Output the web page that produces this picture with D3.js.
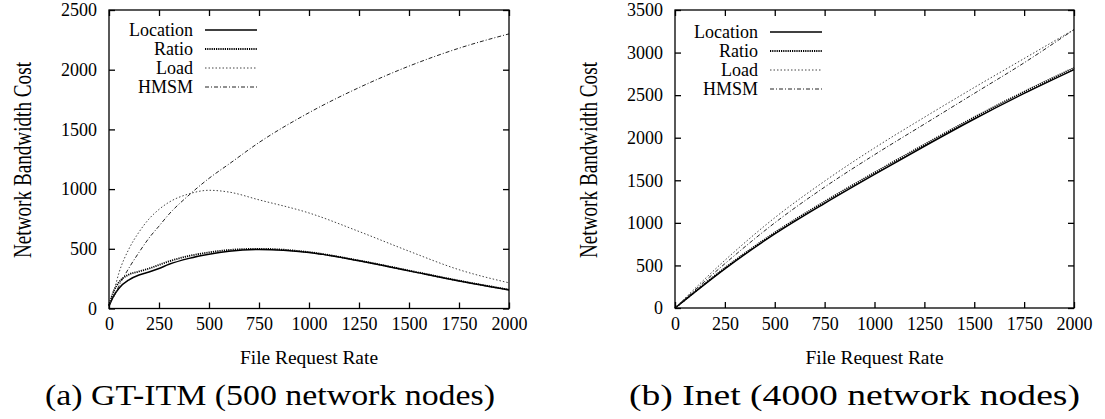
<!DOCTYPE html>
<html>
<head>
<meta charset="utf-8">
<script src="https://cdn.jsdelivr.net/npm/d3@7"></script>
<style>
  body { margin: 0; background: #fff; }
  .axis path, .axis line { stroke: #000; stroke-width: 1.3; }
</style>
</head>
<body>
<svg width="1105" height="419"></svg>
<script>
// (a) GT-ITM
const rateA = [0, 25, 50, 100, 150, 200, 250, 300, 400, 500, 600, 750, 1000, 1250, 1500, 1750, 2000]
const locationA = [20, 110, 170, 240, 280, 305, 335, 370, 420, 455, 480, 495, 470, 400, 315, 230, 155]
const ratioA = [25, 150, 220, 285, 310, 335, 365, 395, 440, 470, 490, 500, 472, 402, 318, 233, 158]
const loadA = [30, 150, 300, 500, 640, 750, 830, 890, 960, 990, 975, 910, 800, 645, 480, 325, 215]
const hmsmA = [30, 100, 190, 340, 470, 590, 690, 790, 950, 1090, 1210, 1390, 1640, 1850, 2030, 2180, 2300]

// (b) Inet
const rateB = [0, 250, 500, 750, 1000, 1250, 1500, 1750, 2000]
const locationB = [0, 460, 870, 1230, 1570, 1900, 2220, 2520, 2800]
const ratioB = [0, 470, 885, 1250, 1590, 1920, 2240, 2540, 2820]
const loadB = [0, 560, 1060, 1490, 1880, 2240, 2590, 2930, 3270]
const hmsmB = [0, 520, 1000, 1420, 1800, 2160, 2520, 2880, 3270]

const xTicks = [0, 250, 500, 750, 1000, 1250, 1500, 1750, 2000]
const yTicksA = [0, 500, 1000, 1500, 2000, 2500]
const yTicksB = [0, 500, 1000, 1500, 2000, 2500, 3000, 3500]
const seriesNames = ['Location', 'Ratio', 'Load', 'HMSM']

const styles = {
  Location: {stroke: '#000', width: 1.5, dash: null},
  Ratio: {stroke: '#000', width: 1.8, dash: '1.2,1'},
  Load: {stroke: '#444', width: 1, dash: '1.5,2'},
  HMSM: {stroke: '#222', width: 1, dash: '4,2,1,2'}
}

const FONT = '"Liberation Serif", "Times New Roman", serif'
const svg = d3.select('svg')

function drawPanel(cfg){
  let {left, right, top, bottom, yMax, yTicks, rate, series, caption, legend} = cfg

  let x = d3.scaleLinear().domain([0, 2000]).range([left, right])
  let y = d3.scaleLinear().domain([0, yMax]).range([bottom, top])
  let g = svg.append('g')

  // lines
  let line = d3.line().x((d, i) => x(rate[i])).y(d => y(d)).curve(d3.curveMonotoneX)
  seriesNames.forEach(name => {
    let s = styles[name]
    g.append('path')
      .attr('d', line(series[name]))
      .attr('fill', 'none')
      .attr('stroke', s.stroke)
      .attr('stroke-width', s.width)
      .attr('stroke-dasharray', s.dash)
  })

  // frame
  g.append('rect')
    .attr('x', left).attr('y', top)
    .attr('width', right - left).attr('height', bottom - top)
    .attr('fill', 'none').attr('stroke', '#000').attr('stroke-width', 1.3)

  // axes, ticks pointing inward, mirrored
  let fmt = d3.format('d')
  let xAxis = d3.axisBottom(x).tickValues(xTicks).tickFormat(fmt).tickSizeInner(-6).tickSizeOuter(0).tickPadding(12)
  let xg = g.append('g').attr('class', 'axis').attr('transform', `translate(0,${bottom})`).call(xAxis)
  xg.attr('font-family', FONT).attr('font-size', 18)
  xg.selectAll('text').attr('dy', '0.55em')
  g.append('g').attr('class', 'axis').attr('transform', `translate(0,${top})`)
    .call(d3.axisTop(x).tickValues(xTicks).tickSizeInner(-6).tickSizeOuter(0).tickFormat(''))

  let yAxis = d3.axisLeft(y).tickValues(yTicks).tickFormat(fmt).tickSizeInner(-6).tickSizeOuter(0).tickPadding(12)
  let yg = g.append('g').attr('class', 'axis').attr('transform', `translate(${left},0)`).call(yAxis)
  yg.attr('font-family', FONT).attr('font-size', 18)
  g.append('g').attr('class', 'axis').attr('transform', `translate(${right},0)`)
    .call(d3.axisRight(y).tickValues(yTicks).tickSizeInner(-6).tickSizeOuter(0).tickFormat(''))
  g.selectAll('.axis path').remove()

  // legend
  seriesNames.forEach((name, i) => {
    let s = styles[name]
    let ly = legend.y + i * legend.step
    g.append('text')
      .attr('x', legend.x).attr('y', ly).attr('dy', '0.35em')
      .attr('text-anchor', 'end').attr('font-size', 18).attr('font-family', FONT)
      .text(name)
    g.append('line')
      .attr('x1', legend.x + 12).attr('x2', legend.x + 64)
      .attr('y1', ly).attr('y2', ly)
      .attr('stroke', s.stroke).attr('stroke-width', s.width)
      .attr('stroke-dasharray', s.dash)
  })

  // axis titles
  g.append('text')
    .attr('transform', `translate(${left - 78},160) rotate(-90)`)
    .attr('text-anchor', 'middle').attr('font-size', 25).attr('font-family', FONT)
    .attr('textLength', 196).attr('lengthAdjust', 'spacingAndGlyphs')
    .text('Network Bandwidth Cost')
  g.append('text')
    .attr('x', (left + right) / 2).attr('y', 364)
    .attr('text-anchor', 'middle').attr('font-size', 19).attr('font-family', FONT)
    .attr('textLength', 138).attr('lengthAdjust', 'spacingAndGlyphs')
    .text('File Request Rate')

  // caption
  g.append('text')
    .attr('x', caption.x).attr('y', 405)
    .attr('font-size', 29).attr('font-family', FONT)
    .attr('textLength', caption.len).attr('lengthAdjust', 'spacingAndGlyphs')
    .text(caption.text)
}

drawPanel({
  left: 109, right: 509, top: 10, bottom: 308.5, yMax: 2500, yTicks: yTicksA, rate: rateA,
  series: {Location: locationA, Ratio: ratioA, Load: loadA, HMSM: hmsmA},
  caption: {text: '(a) GT-ITM (500 network nodes)', len: 450, x: 45},
  legend: {x: 193, y: 30, step: 19}
})

drawPanel({
  left: 675, right: 1074, top: 10, bottom: 308, yMax: 3500, yTicks: yTicksB, rate: rateB,
  series: {Location: locationB, Ratio: ratioB, Load: loadB, HMSM: hmsmB},
  caption: {text: '(b) Inet (4000 network nodes)', len: 451, x: 629},
  legend: {x: 758, y: 32, step: 19}
})
</script>
</body>
</html>
